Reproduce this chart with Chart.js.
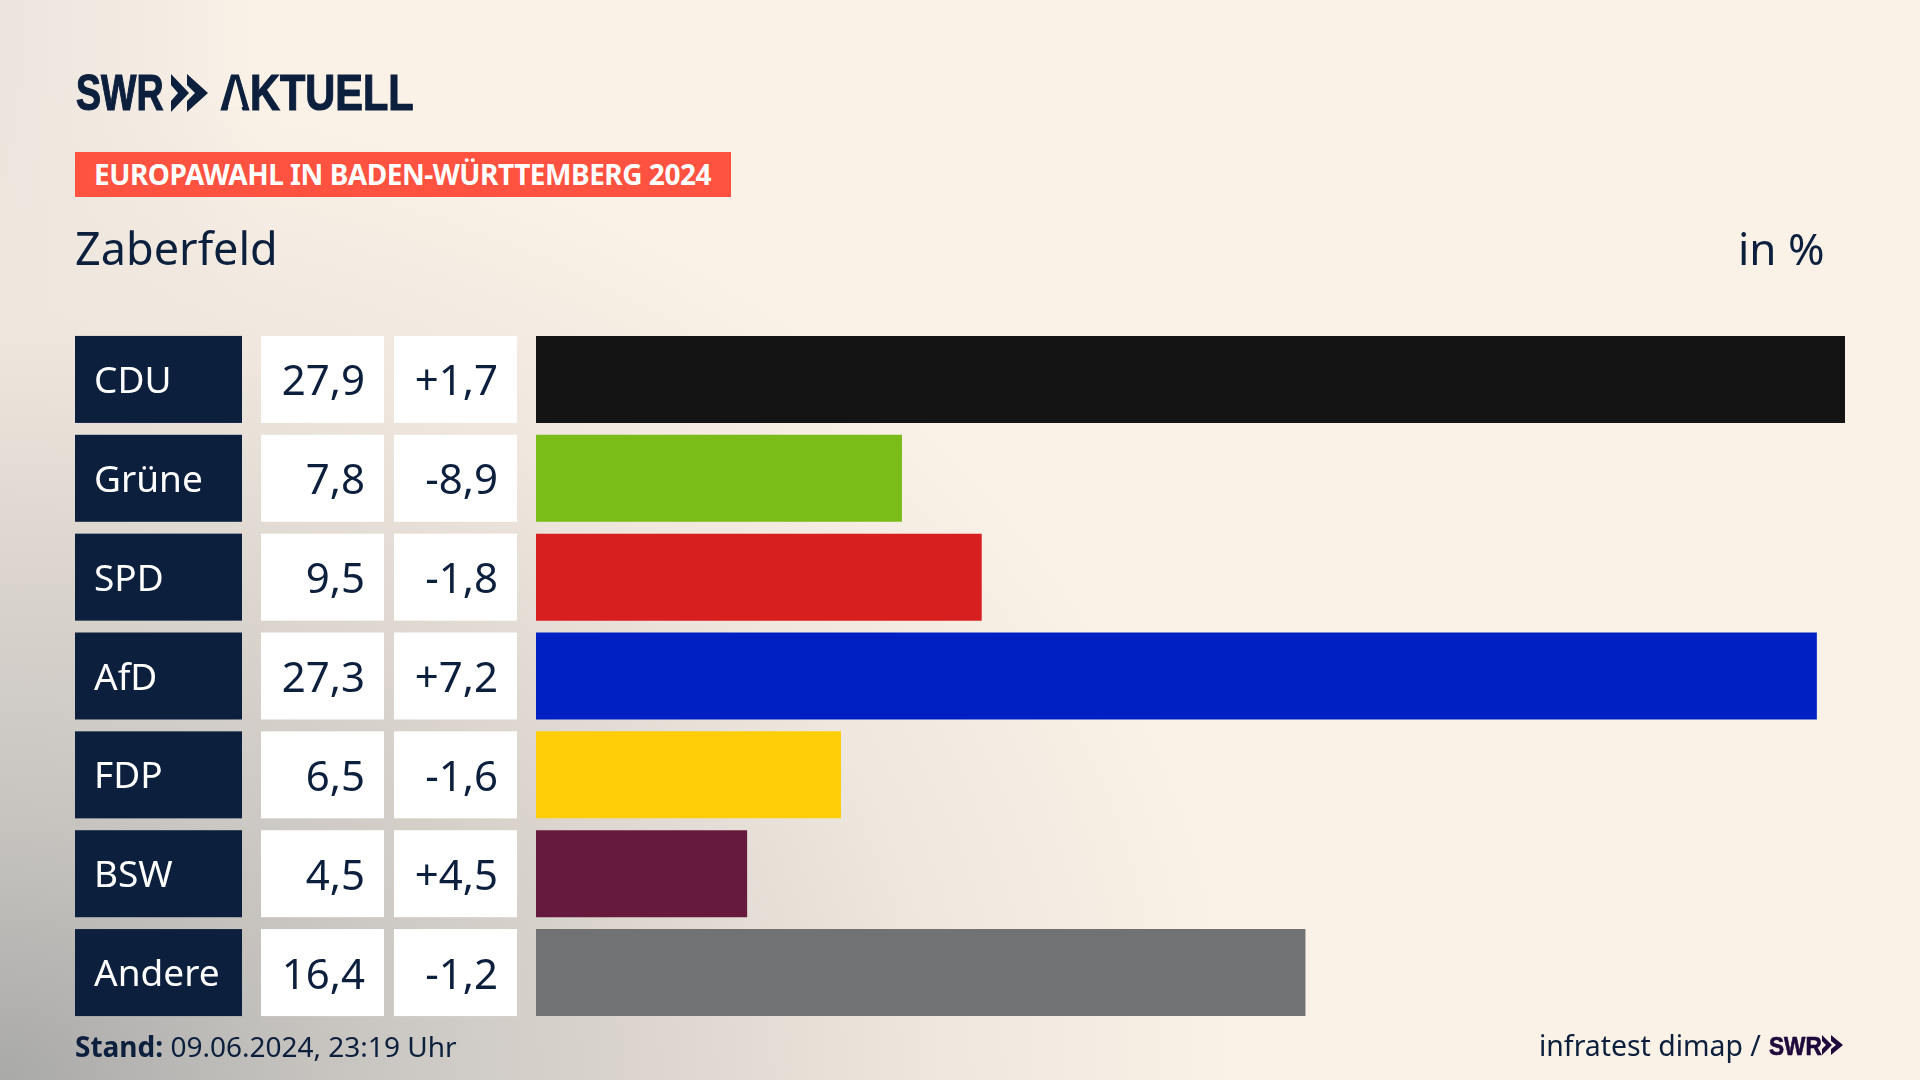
<!DOCTYPE html>
<html lang="de">
<head>
<meta charset="utf-8">
<title>Europawahl Zaberfeld</title>
<script src="https://cdn.jsdelivr.net/npm/chart.js@4"></script>
<style>
  html, body { margin: 0; padding: 0; }
  body {
    width: 1920px; height: 1080px; overflow: hidden; position: relative;
    font-family: "Noto Sans", sans-serif; color: #0c1f3d;
    background:
      radial-gradient(ellipse 1250px 1000px at 0 100%, #a9a9a8 0%, #c6c3bf 25%, #dad4cd 50%, #efe7de 75%, rgba(250,241,231,0) 100%),
      linear-gradient(90deg, #ebe5de 0, #faf1e7 260px);
    background-color: #faf1e7;
  }
  canvas { position: absolute; left: 0; top: 0; }
  .txt { position: absolute; white-space: nowrap; line-height: 1; }
  #logo { left: 76px; top: 64px; font: bold 50px "Liberation Sans", sans-serif; -webkit-text-stroke: 1.2px #0c1f3d; transform: scaleX(0.75); transform-origin: left top; }
  #aktuell { left: 220px; top: 64px; font: bold 50px "Liberation Sans", sans-serif; -webkit-text-stroke: 1.2px #0c1f3d; transform: scaleX(0.83); transform-origin: left top; }
  #banner { left: 75px; top: 152px; width: 656px; height: 45px; background: #ff5240; }
  #bannerText { left: 94px; top: 160px; font-size: 28px; font-weight: 700; color: #fff; letter-spacing: -0.47px; }
  #ort { left: 75px; top: 225px; font-size: 45px; }
  #unit { left: 1738px; top: 226px; font-size: 44px; }
  #stand { left: 75px; top: 1032px; font-size: 28px; }
  #quelle { left: 1539px; top: 1031px; font-size: 28.4px; }
  #swr2 { left: 1769px; top: 1031px; font: bold 26px "Liberation Sans", sans-serif; color: #1e0a3c; -webkit-text-stroke: 0.7px #1e0a3c; transform: scaleX(0.87); transform-origin: left top; }
  svg { position: absolute; }
</style>
</head>
<body>
<canvas id="wahlChart" width="1920" height="1080"></canvas>

<div class="txt" id="logo">SWR</div>
<svg style="left:171px;top:74px" width="38" height="38" viewBox="0 0 38 38"><path d="M0 0 L18 19 L0 38 L0 27 L7 19 L0 11Z M16 0 L37 19 L16 38 L16 27 L24 19 L16 11Z" fill="#0c1f3d"/></svg>
<div class="txt" id="aktuell">AKTUELL</div>
<!-- the logo's A has no crossbar -->
<svg style="left:220px;top:70px" width="32" height="38" viewBox="0 0 32 38"><path d="M15.5 9 L23 37 L8 37Z" fill="#faf1e7"/></svg>
<div class="txt" id="banner"></div>
<div class="txt" id="bannerText">EUROPAWAHL IN BADEN-WÜRTTEMBERG 2024</div>
<div class="txt" id="ort">Zaberfeld</div>
<div class="txt" id="unit">in %</div>
<div class="txt" id="stand"><b>Stand:</b> 09.06.2024, 23:19 Uhr</div>
<div class="txt" id="quelle">infratest dimap /</div>
<div class="txt" id="swr2">SWR</div>
<svg style="left:1822px;top:1035px" width="22" height="22" viewBox="0 0 22 22"><path d="M0 0 L10 10 L0 20 L0 14 L4 10 L0 6Z M9 0 L21 10 L9 20 L9 14 L14 10 L9 6Z" fill="#1e0a3c"/></svg>

<script>
const parteien = ['CDU', 'Grüne', 'SPD', 'AfD', 'FDP', 'BSW', 'Andere'];
const ergebnis = [27.9, 7.8, 9.5, 27.3, 6.5, 4.5, 16.4];
const veraenderung = [1.7, -8.9, -1.8, 7.2, -1.6, 4.5, -1.2];
const farben = ['#141414', '#7abd19', '#d61f1e', '#0120c4', '#ffce08', '#661a3e', '#707274'];

function komma(wert) {
  return wert.toFixed(1).replace('.', ',');
}

// Boxes left of the bars, placed from the y scale
const tabelle = {
  id: 'tabelle',
  beforeDraw(chart) {
    const ctx = chart.ctx;
    const balken = chart.getDatasetMeta(0).data;
    balken.forEach((bar, i) => {
      const top = bar.y - bar.height / 2;
      ctx.fillStyle = '#0c1f3d';
      ctx.fillRect(75, top, 167, bar.height);
      ctx.fillStyle = '#ffffff';
      ctx.fillRect(261, top, 123, bar.height);
      ctx.fillRect(394, top, 123, bar.height);
    });
  },
  afterDraw(chart) {
    const ctx = chart.ctx;
    const balken = chart.getDatasetMeta(0).data;
    ctx.save();
    ctx.font = '42px "Noto Sans"';
    ctx.fillStyle = '#0c1f3d';
    ctx.textAlign = 'right';
    ctx.textBaseline = 'middle';
    balken.forEach((bar, i) => {
      const diff = veraenderung[i];
      ctx.fillText(komma(ergebnis[i]), 365, bar.y + 4);
      ctx.fillText((diff > 0 ? '+' : '') + komma(diff), 498, bar.y + 4);
    });
    ctx.restore();
  }
};

new Chart(document.getElementById('wahlChart'), {
  type: 'bar',
  data: {
    labels: parteien,
    datasets: [{
      data: ergebnis,
      backgroundColor: farben,
      barPercentage: 0.88,
      categoryPercentage: 1
    }]
  },
  options: {
    indexAxis: 'y',
    responsive: false,
    animation: false,
    layout: { padding: { left: 94, right: 75, top: 330, bottom: 58 } },
    plugins: { legend: { display: false }, tooltip: { enabled: false } },
    scales: {
      x: { display: false, min: 0, max: 27.9 },
      y: {
        afterFit(axis) { axis.width = 442; },
        grid: { display: false },
        border: { display: false },
        ticks: {
          autoSkip: false,
          crossAlign: 'far',
          labelOffset: 3,
          color: '#ffffff',
          font: { family: '"Noto Sans"', size: 37 }
        }
      }
    }
  },
  plugins: [tabelle]
});
</script>
</body>
</html>
